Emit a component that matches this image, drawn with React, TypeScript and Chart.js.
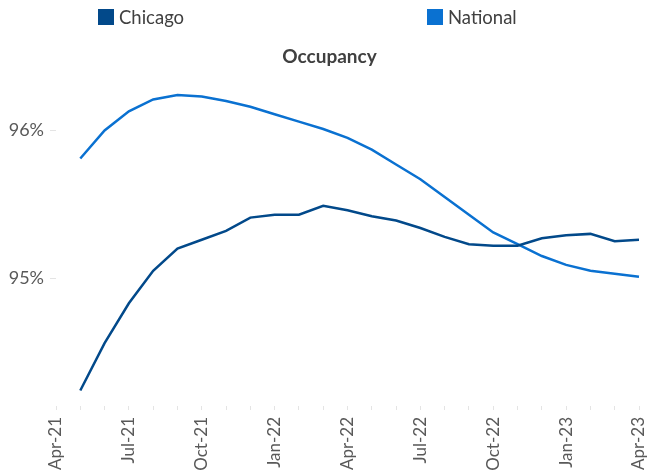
import React, { useEffect, useRef } from "react";
import { Chart, registerables } from "chart.js";

Chart.register(...registerables);

const months: string[] = [
  "Apr-21", "May-21", "Jun-21", "Jul-21", "Aug-21", "Sep-21", "Oct-21", "Nov-21", "Dec-21",
  "Jan-22", "Feb-22", "Mar-22", "Apr-22", "May-22", "Jun-22", "Jul-22", "Aug-22", "Sep-22",
  "Oct-22", "Nov-22", "Dec-22", "Jan-23", "Feb-23", "Mar-23", "Apr-23",
];

const chicago: (number | null)[] = [
  null, 94.24, 94.56, 94.83, 95.05, 95.2, 95.26, 95.32, 95.41, 95.43, 95.43, 95.49, 95.46,
  95.42, 95.39, 95.34, 95.28, 95.23, 95.22, 95.22, 95.27, 95.29, 95.3, 95.25, 95.26,
];

const national: (number | null)[] = [
  null, 95.81, 96.0, 96.13, 96.21, 96.24, 96.23, 96.2, 96.16, 96.11, 96.06, 96.01, 95.95,
  95.87, 95.77, 95.67, 95.55, 95.43, 95.31, 95.23, 95.15, 95.09, 95.05, 95.03, 95.01,
];

const yTickValues: number[] = [95, 96];

const CHICAGO_COLOR = "#02498a";
const NATIONAL_COLOR = "#0a71d1";
const FONT = "Lato";

const titleShift = {
  id: "titleShift",
  afterLayout(chart: any) {
    if (chart.titleBlock) {
      chart.titleBlock.left += 6;
      chart.titleBlock.right += 6;
    }
  },
};

export default function App() {
  const canvasRef = useRef<HTMLCanvasElement | null>(null);

  useEffect(() => {
    if (!canvasRef.current) return;
    const chart = new Chart(canvasRef.current, {
      type: "line",
      data: {
        labels: months,
        datasets: [
          {
            label: "Chicago",
            data: chicago,
            borderColor: CHICAGO_COLOR,
            backgroundColor: CHICAGO_COLOR,
            borderWidth: 2.5,
            pointRadius: 0,
            tension: 0,
          },
          {
            label: "National",
            data: national,
            borderColor: NATIONAL_COLOR,
            backgroundColor: NATIONAL_COLOR,
            borderWidth: 2.5,
            pointRadius: 0,
            tension: 0,
          },
        ],
      },
      plugins: [titleShift],
      options: {
        responsive: false,
        animation: false,
        layout: { padding: { top: 36, left: 8, right: 8, bottom: 0 } },
        plugins: {
          legend: { display: false },
          tooltip: { enabled: false },
          title: {
            display: true,
            text: "Occupancy",
            color: "#404040",
            font: { family: FONT, size: 19, weight: "bold" },
            padding: { top: 9, bottom: 8 },
          },
        },
        scales: {
          x: {
            type: "category",
            offset: false,
            border: { display: false },
            grid: {
              display: true,
              drawOnChartArea: false,
              drawTicks: true,
              tickLength: 4,
              color: "#e4e4e4",
            },
            ticks: {
              autoSkip: false,
              minRotation: 90,
              maxRotation: 90,
              padding: 7,
              color: "#595959",
              font: { family: FONT, size: 17 },
              callback: (_v: any, i: number) => (i % 3 === 0 ? months[i] : ""),
            },
            afterFit: (scale: any) => {
              scale.height = 69;
              scale.paddingLeft = 0;
              scale.paddingRight = 0;
            },
          },
          y: {
            min: 94.135,
            max: 96.37,
            border: { display: false },
            grid: {
              display: true,
              drawOnChartArea: false,
              drawTicks: true,
              tickLength: 6,
              color: "#e4e4e4",
            },
            ticks: {
              padding: 6,
              color: "#595959",
              font: { family: FONT, size: 18 },
              callback: (v: any) => `${v}%`,
            },
            afterBuildTicks: (scale: any) => {
              scale.ticks = yTickValues.map((value) => ({ value }));
            },
            afterFit: (scale: any) => {
              scale.width = 48;
              scale.paddingTop = 0;
              scale.paddingBottom = 0;
            },
          },
        },
      },
    });
    return () => chart.destroy();
  }, []);

  const legendItem = (left: number, color: string, text: string) => (
    <div
      style={{
        position: "absolute",
        left,
        top: 7,
        display: "flex",
        alignItems: "center",
        fontFamily: FONT,
        fontSize: 18.5,
        color: "#404040",
        lineHeight: "20px",
      }}
    >
      <span
        style={{
          display: "inline-block",
          width: 16,
          height: 16,
          background: color,
          marginRight: 5,
        }}
      />
      <span>{text}</span>
    </div>
  );

  return (
    <div
      style={{
        position: "absolute",
        left: 0,
        top: 0,
        width: 647,
        height: 475,
        background: "#ffffff",
      }}
    >
      <canvas
        ref={canvasRef}
        width={647}
        height={475}
        style={{ width: 647, height: 475, display: "block" }}
      />
      {legendItem(98, CHICAGO_COLOR, "Chicago")}
      {legendItem(427, NATIONAL_COLOR, "National")}
    </div>
  );
}
